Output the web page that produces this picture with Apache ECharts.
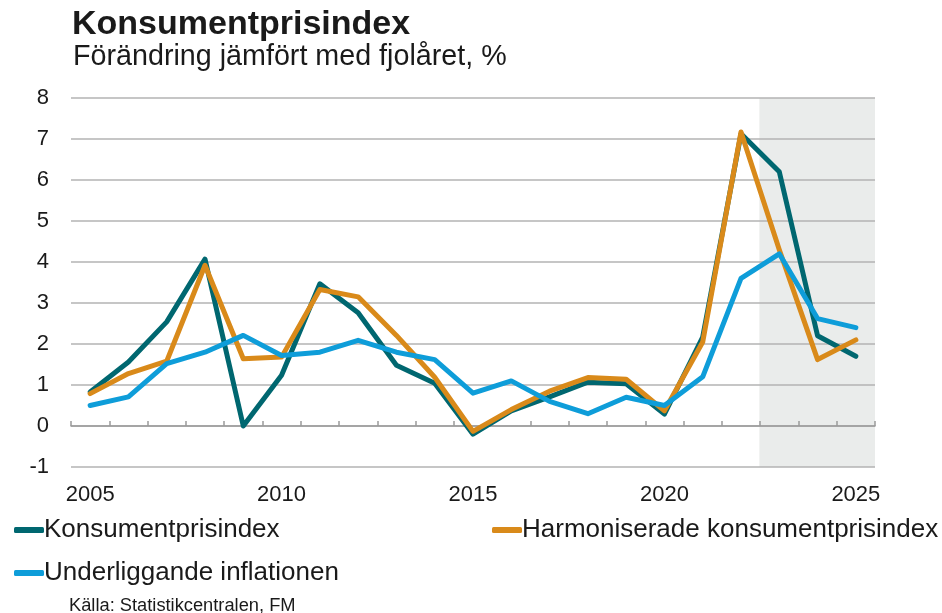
<!DOCTYPE html>
<html><head><meta charset="utf-8">
<script src="https://cdn.jsdelivr.net/npm/echarts@6/dist/echarts.min.js"></script>
<style>html,body{margin:0;padding:0;background:#fff}#c{width:942px;height:613px}</style>
</head><body><div id="c"></div>
<script>
const years = ['2005','2006','2007','2008','2009','2010','2011','2012','2013','2014','2015','2016','2017','2018','2019','2020','2021','2022','2023','2024','2025'];
const kpi  = [0.83,1.56,2.54,4.07,0.0,1.24,3.47,2.76,1.48,1.04,-0.2,0.37,0.71,1.07,1.03,0.29,2.17,7.13,6.2,2.2,1.7];
const hikp = [0.79,1.28,1.58,3.92,1.64,1.68,3.33,3.15,2.21,1.19,-0.13,0.4,0.85,1.18,1.14,0.37,2.05,7.17,4.3,1.62,2.1];
const underlying = [0.5,0.71,1.52,1.8,2.21,1.72,1.8,2.09,1.8,1.62,0.8,1.1,0.6,0.3,0.7,0.5,1.2,3.6,4.2,2.62,2.4];
const forecastYears = ['2023','2024','2025'];
const yTicks = {min:-1, max:8, step:1};
const names = ['Konsumentprisindex','Harmoniserade konsumentprisindex','Underliggande inflationen'];
const colors = ['#006770','#d98a1a','#0e9dd9'];

const shadeUp = years.map(y => forecastYears.includes(y) ? yTicks.max : null);
const shadeDown = years.map(y => forecastYears.includes(y) ? yTicks.min : null);

const font = '"Liberation Sans", Arial, sans-serif';
const shadeColor = '#eaeceb';
const chart = echarts.init(document.getElementById('c'));
chart.setOption({
  animation:false,
  backgroundColor:'#fff',
  textStyle:{fontFamily:font},
  title:[
    {text:'Konsumentprisindex', left:67, top:3, textStyle:{fontFamily:font,fontSize:34,fontWeight:'bold',color:'#1a1a1a'}},
    {text:'Förändring jämfört med fjolåret, %', left:68, top:38, textStyle:{fontFamily:font,fontSize:28.7,fontWeight:'normal',color:'#1a1a1a'}},
    {text:'Källa: Statistikcentralen, FM', left:64, top:592, textStyle:{fontFamily:font,fontSize:18.3,fontWeight:'normal',color:'#1a1a1a'}}
  ],
  legend:[
    {data:[names[0],names[2]], orient:'vertical', left:9, top:512, itemGap:17, itemWidth:30, itemHeight:6, icon:'roundRect',
     textStyle:{fontFamily:font,fontSize:26,color:'#1a1a1a',padding:[0,0,0,-5]}},
    {data:[names[1]], orient:'vertical', left:487, top:512, itemWidth:30, itemHeight:6, icon:'roundRect',
     textStyle:{fontFamily:font,fontSize:26,color:'#1a1a1a',padding:[0,0,0,-5]}}
  ],
  grid:{left:71, right:67, top:98, bottom:146, containLabel:false},
  xAxis:{type:'category', data:years, boundaryGap:true,
    axisLine:{onZero:true, lineStyle:{color:'#9a9a9a', width:1.5}},
    axisTick:{show:true, inside:true, length:5, interval:0, lineStyle:{color:'#9a9a9a', width:1.5}},
    axisLabel:{interval:4, margin:17, fontFamily:font, fontSize:22, color:'#1a1a1a'},
    splitLine:{show:false}},
  yAxis:{type:'value', min:yTicks.min, max:yTicks.max, interval:yTicks.step,
    axisLine:{show:false}, axisTick:{show:false},
    axisLabel:{margin:22, fontFamily:font, fontSize:22, color:'#1a1a1a'},
    splitLine:{show:true, lineStyle:{color:'#b3b3b3', width:1.5}}},
  series:[
    {name:'shadeUp', type:'bar', stack:'shade', data:shadeUp, barWidth:'104%', z:-1, silent:true,
     itemStyle:{color:shadeColor}},
    {name:'shadeDown', type:'bar', stack:'shade', data:shadeDown, barWidth:'104%', z:-1, silent:true,
     itemStyle:{color:shadeColor}},
    {name:names[0], type:'line', data:kpi, symbol:'none', color:colors[0], lineStyle:{width:5, color:colors[0], cap:'round', join:'round'}, z:3},
    {name:names[1], type:'line', data:hikp, symbol:'none', color:colors[1], lineStyle:{width:5, color:colors[1], cap:'round', join:'round'}, z:4},
    {name:names[2], type:'line', data:underlying, symbol:'none', color:colors[2], lineStyle:{width:5, color:colors[2], cap:'round', join:'round'}, z:5}
  ]
});
</script></body></html>
